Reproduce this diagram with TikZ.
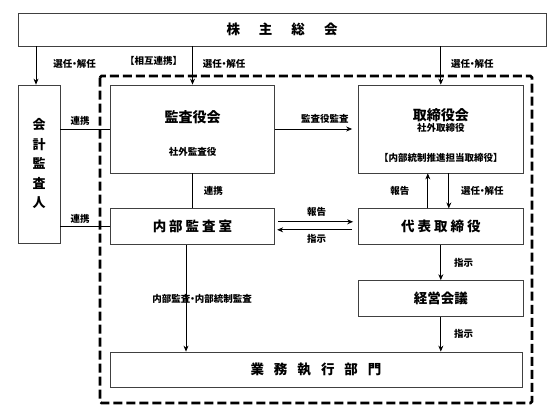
\documentclass[tikz,border=0pt]{standalone}
\usepackage{fontspec}
\setmainfont{Noto Sans CJK JP}
\usetikzlibrary{arrows.meta,positioning}
\newcommand{\ndot}{\kern-2.5pt・\kern-2.5pt}

\begin{document}
\begin{tikzpicture}[
    x=1pt, y=-1pt,
    block/.style={rectangle, draw=black!75, line width=0.8pt, minimum width=164.5pt, minimum height=36pt, inner sep=0pt, font=\fontsize{13.5}{16}\selectfont\bfseries},
    title/.style={font=\fontsize{14}{16}\selectfont\bfseries, inner sep=0pt},
    sub/.style={font=\fontsize{9.5}{11}\selectfont\bfseries, inner sep=0pt},
    lbl/.style={font=\fontsize{9.5}{11}\selectfont\bfseries, inner sep=1pt},
    line/.style={draw, line width=0.7pt},
    arr/.style={draw, line width=0.7pt, -{Stealth[length=6pt,width=5pt]}},
    frame/.style={draw, line width=2.6pt, dash pattern=on 9pt off 4pt, rounded corners=1.5pt}
]
\useasboundingbox (0,0) rectangle (559,418);

% ----------------------------
% Frame
% ----------------------------
\draw[frame] (100,76) rectangle (532,403);

% ----------------------------
% Nodes
% ----------------------------
\node[block, minimum width=528pt, minimum height=33pt] (soukai) at (282,29.5) {株\hspace{19pt}主\hspace{19pt}総\hspace{19pt}会};
\node[block, minimum width=42pt, minimum height=158pt, align=center, font=\fontsize{13}{19.5}\selectfont\bfseries] (kaikei) at (39,164) {会\\計\\監\\査\\人};

\node[block, minimum height=88pt] (kansa) at (192.5,129) {};
\node[block, minimum height=88pt, right=83pt of kansa] (torishimari) {};
\node[block, below=35pt of kansa] (naibu) {内\hspace{3pt}部\hspace{3pt}監\hspace{3pt}査\hspace{3pt}室};
\node[block, below=35pt of torishimari] (daihyo) {代\hspace{3pt}表\hspace{3pt}取\hspace{3pt}締\hspace{3pt}役};
\node[block, below=35pt of daihyo] (keiei) {経営会議};
\node[block, minimum width=412pt, minimum height=35pt] (gyomu) at (316,369.5) {業\hspace{10pt}務\hspace{10pt}執\hspace{10pt}行\hspace{10pt}部\hspace{10pt}門};

% box contents
\node[title] (kansatitle) at ([yshift=12pt]kansa.center) {監査役会};
\node[sub] (kansasub) at ([yshift=-23pt]kansa.center) {社外監査役};
\node[title] (torititle) at ([yshift=14pt]torishimari.center) {取締役会};
\node[sub] (torisub) at ([yshift=1pt]torishimari.center) {社外取締役};
\node[sub] (torinaibu) at ([yshift=-29pt]torishimari.center) {【内部統制推進担当取締役】};

% ----------------------------
% Edges
% ----------------------------
\path[arr] ([xshift=-3pt]kaikei.north |- soukai.south) -- ([xshift=-3pt]kaikei.north)
    node[midway, right=16pt, yshift=2pt, lbl] {選任\ndot 解任};
\path[arr] (soukai.south -| kansa) -- (kansa.north)
    node[midway, left=9pt, yshift=5pt, lbl] {【相互連携】}
    node[midway, right=9pt, yshift=2pt, lbl] {選任\ndot 解任};
\path[arr] (soukai.south -| torishimari) -- (torishimari.north)
    node[midway, right=9pt, yshift=2pt, lbl] {選任\ndot 解任};

% accounting auditor
\path[line] (kaikei.east |- kansa) -- (kansa.west)
    node[midway, above=2pt, xshift=-5pt, lbl] {連携};
\path[line] (kaikei.east |- naibu) -- (naibu.west)
    node[midway, above=2pt, xshift=-5pt, lbl] {連携};

% audit board
\path[line] (kansa.south) -- (naibu.north)
    node[midway, right=10pt, lbl] {連携};
\path[arr, shorten >=6pt] (kansa.east) -- (torishimari.west)
    node[pos=0.6, above=4pt, lbl] {監査役監査};

% board / representative director
\path[arr] ([xshift=-13pt]daihyo.north) -- ([xshift=-13pt]torishimari.south)
    node[midway, left=17pt, lbl] {報告};
\path[arr] ([xshift=8pt]torishimari.south) -- ([xshift=8pt]daihyo.north)
    node[midway, right=11pt, lbl] {選任\ndot 解任};

% internal audit office
\path[arr, shorten <=3pt, shorten >=5pt] ([yshift=5pt]naibu.east) -- ([yshift=5pt]daihyo.west)
    node[midway, above=4pt, lbl] {報告};
\path[arr, shorten <=6pt, shorten >=2pt] ([yshift=-3pt]daihyo.west) -- ([yshift=-3pt]naibu.east)
    node[midway, below=3pt, lbl] {指示};
\path[arr] ([xshift=-6.5pt]naibu.south) -- ([xshift=-6.5pt]naibu.south |- gyomu.north)
    node[midway, xshift=16pt, lbl] {内部監査\ndot 内部統制監査};

% execution
\path[arr] (daihyo.south) -- (keiei.north)
    node[midway, right=12pt, lbl] {指示};
\path[arr] (keiei.south) -- (keiei.south |- gyomu.north)
    node[midway, right=12pt, lbl] {指示};

\end{tikzpicture}
\end{document}
